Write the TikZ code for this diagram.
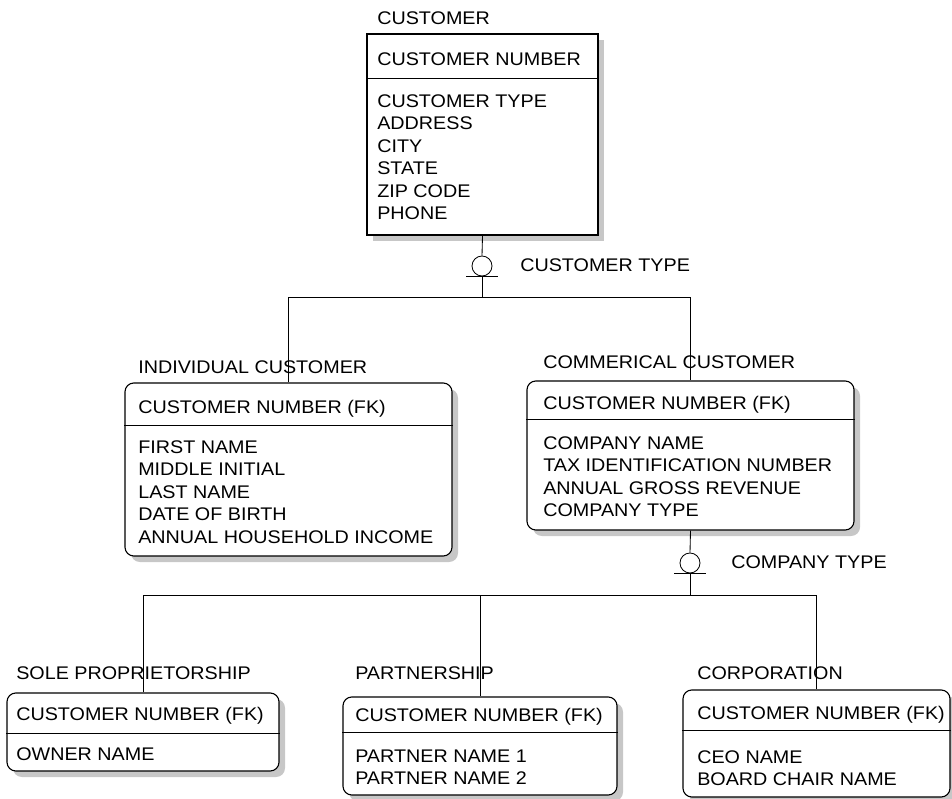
\documentclass[tikz,border=0pt]{standalone}
\usepackage{fontspec}
\setmainfont{Liberation Sans}[FakeStretch=1.08]
\usetikzlibrary{fit,shadows}

\begin{document}
\begin{tikzpicture}[
  x=0.025cm, y=-0.025cm, color=black,
  font=\fontsize{13pt}{16pt}\selectfont,
  ent/.style={draw, fill=white, inner sep=0pt, line width=0.8pt,
    general shadow={shadow xshift=1.5mm, shadow yshift=-1.5mm, fill=black!22, draw=none, opacity=1}},
  dep/.style={ent, rounded corners=2.2mm},
  lbl/.style={anchor=base west, inner sep=0pt},
  attrs/.style={anchor=north west, inner sep=0pt, align=left},
  disc/.style={draw, circle, minimum size=0.5cm, inner sep=0pt, line width=0.6pt},
  link/.style={line width=0.6pt},
  divider/.style={line width=0.6pt},
]
\useasboundingbox (0,0) rectangle (952,799);

% ---------------- entity boxes ----------------
\node[ent, fit={(367,34) (598,235)}] (cust) {};
\node[dep, fit={(125,383) (452,556)}] (indiv) {};
\node[dep, fit={(527,381) (854,530)}] (comm) {};
\node[dep, fit={(7,693) (279,771)}] (sole) {};
\node[dep, fit={(343,697) (617,795)}] (partn) {};
\node[dep, fit={(683,690) (950,797)}] (corp) {};

\draw[divider] (cust.west |- 0,78) -- (cust.east |- 0,78);
\draw[divider] (indiv.west |- 0,425) -- (indiv.east |- 0,425);
\draw[divider] (comm.west |- 0,419) -- (comm.east |- 0,419);
\draw[divider] (sole.west |- 0,733) -- (sole.east |- 0,733);
\draw[divider] (partn.west |- 0,732) -- (partn.east |- 0,732);
\draw[divider] (corp.west |- 0,730) -- (corp.east |- 0,730);

% ---------------- categories ----------------
\node[disc] (ctype) at (482,266) {};
\node[lbl] (ctypelbl) at (520,271.6) {CUSTOMER TYPE};
\coordinate (tree1) at (482,297);
\draw[link] (cust.south) -- (ctype.north);
\draw[link] ([xshift=-4mm]ctype.south) -- ([xshift=4mm]ctype.south);
\draw[link] (ctype.south) -- (tree1);
\draw[link] (indiv.north) -- (indiv.north |- tree1) -- (comm.north |- tree1) -- (comm.north);

\node[disc] (cotype) at (690,563) {};
\node[lbl] (cotypelbl) at (731,568.6) {COMPANY TYPE};
\coordinate (tree2) at (690,595);
\draw[link] (comm.south) -- (cotype.north);
\draw[link] ([xshift=-4mm]cotype.south) -- ([xshift=4mm]cotype.south);
\draw[link] (cotype.south) -- (tree2);
\draw[link] (sole.north) -- (sole.north |- tree2) -- (corp.north |- tree2) -- (corp.north);
\draw[link] (partn.north |- tree2) -- (partn.north);

% ---------------- texts ----------------
\node[lbl] (custname) at (377,24.6) {CUSTOMER};
\node[lbl] (custkey) at (377,65.6) {CUSTOMER NUMBER};
\node[attrs] (custattr) at (377,94.4) {CUSTOMER TYPE\\ADDRESS\\CITY\\STATE\\ZIP CODE\\PHONE};

\node[lbl] (indivname) at (138,373.6) {INDIVIDUAL CUSTOMER};
\node[lbl] (indivkey) at (138,413.6) {CUSTOMER NUMBER (FK)};
\node[attrs] (indivattr) at (138,440.4) {FIRST NAME\\MIDDLE INITIAL\\LAST NAME\\DATE OF BIRTH\\ANNUAL HOUSEHOLD INCOME};

\node[lbl] (commname) at (543,368.6) {COMMERICAL CUSTOMER};
\node[lbl] (commkey) at (543,409.6) {CUSTOMER NUMBER (FK)};
\node[attrs] (commattr) at (543,436.4) {COMPANY NAME\\TAX IDENTIFICATION NUMBER\\ANNUAL GROSS REVENUE\\COMPANY TYPE};

\node[lbl] (solename) at (16,679.6) {SOLE PROPRIETORSHIP};
\node[lbl] (solekey) at (16,720.6) {CUSTOMER NUMBER (FK)};
\node[attrs] (soleattr) at (16,747.4) {OWNER NAME};

\node[lbl] (partnname) at (355,679.6) {PARTNERSHIP};
\node[lbl] (partnkey) at (355,721.6) {CUSTOMER NUMBER (FK)};
\node[attrs] (partnattr) at (355,749.4) {PARTNER NAME 1\\PARTNER NAME 2};

\node[lbl] (corpname) at (697,679.6) {CORPORATION};
\node[lbl] (corpkey) at (697,719.6) {CUSTOMER NUMBER (FK)};
\node[attrs] (corpattr) at (697,750.4) {CEO NAME\\BOARD CHAIR NAME};
\end{tikzpicture}
\end{document}
